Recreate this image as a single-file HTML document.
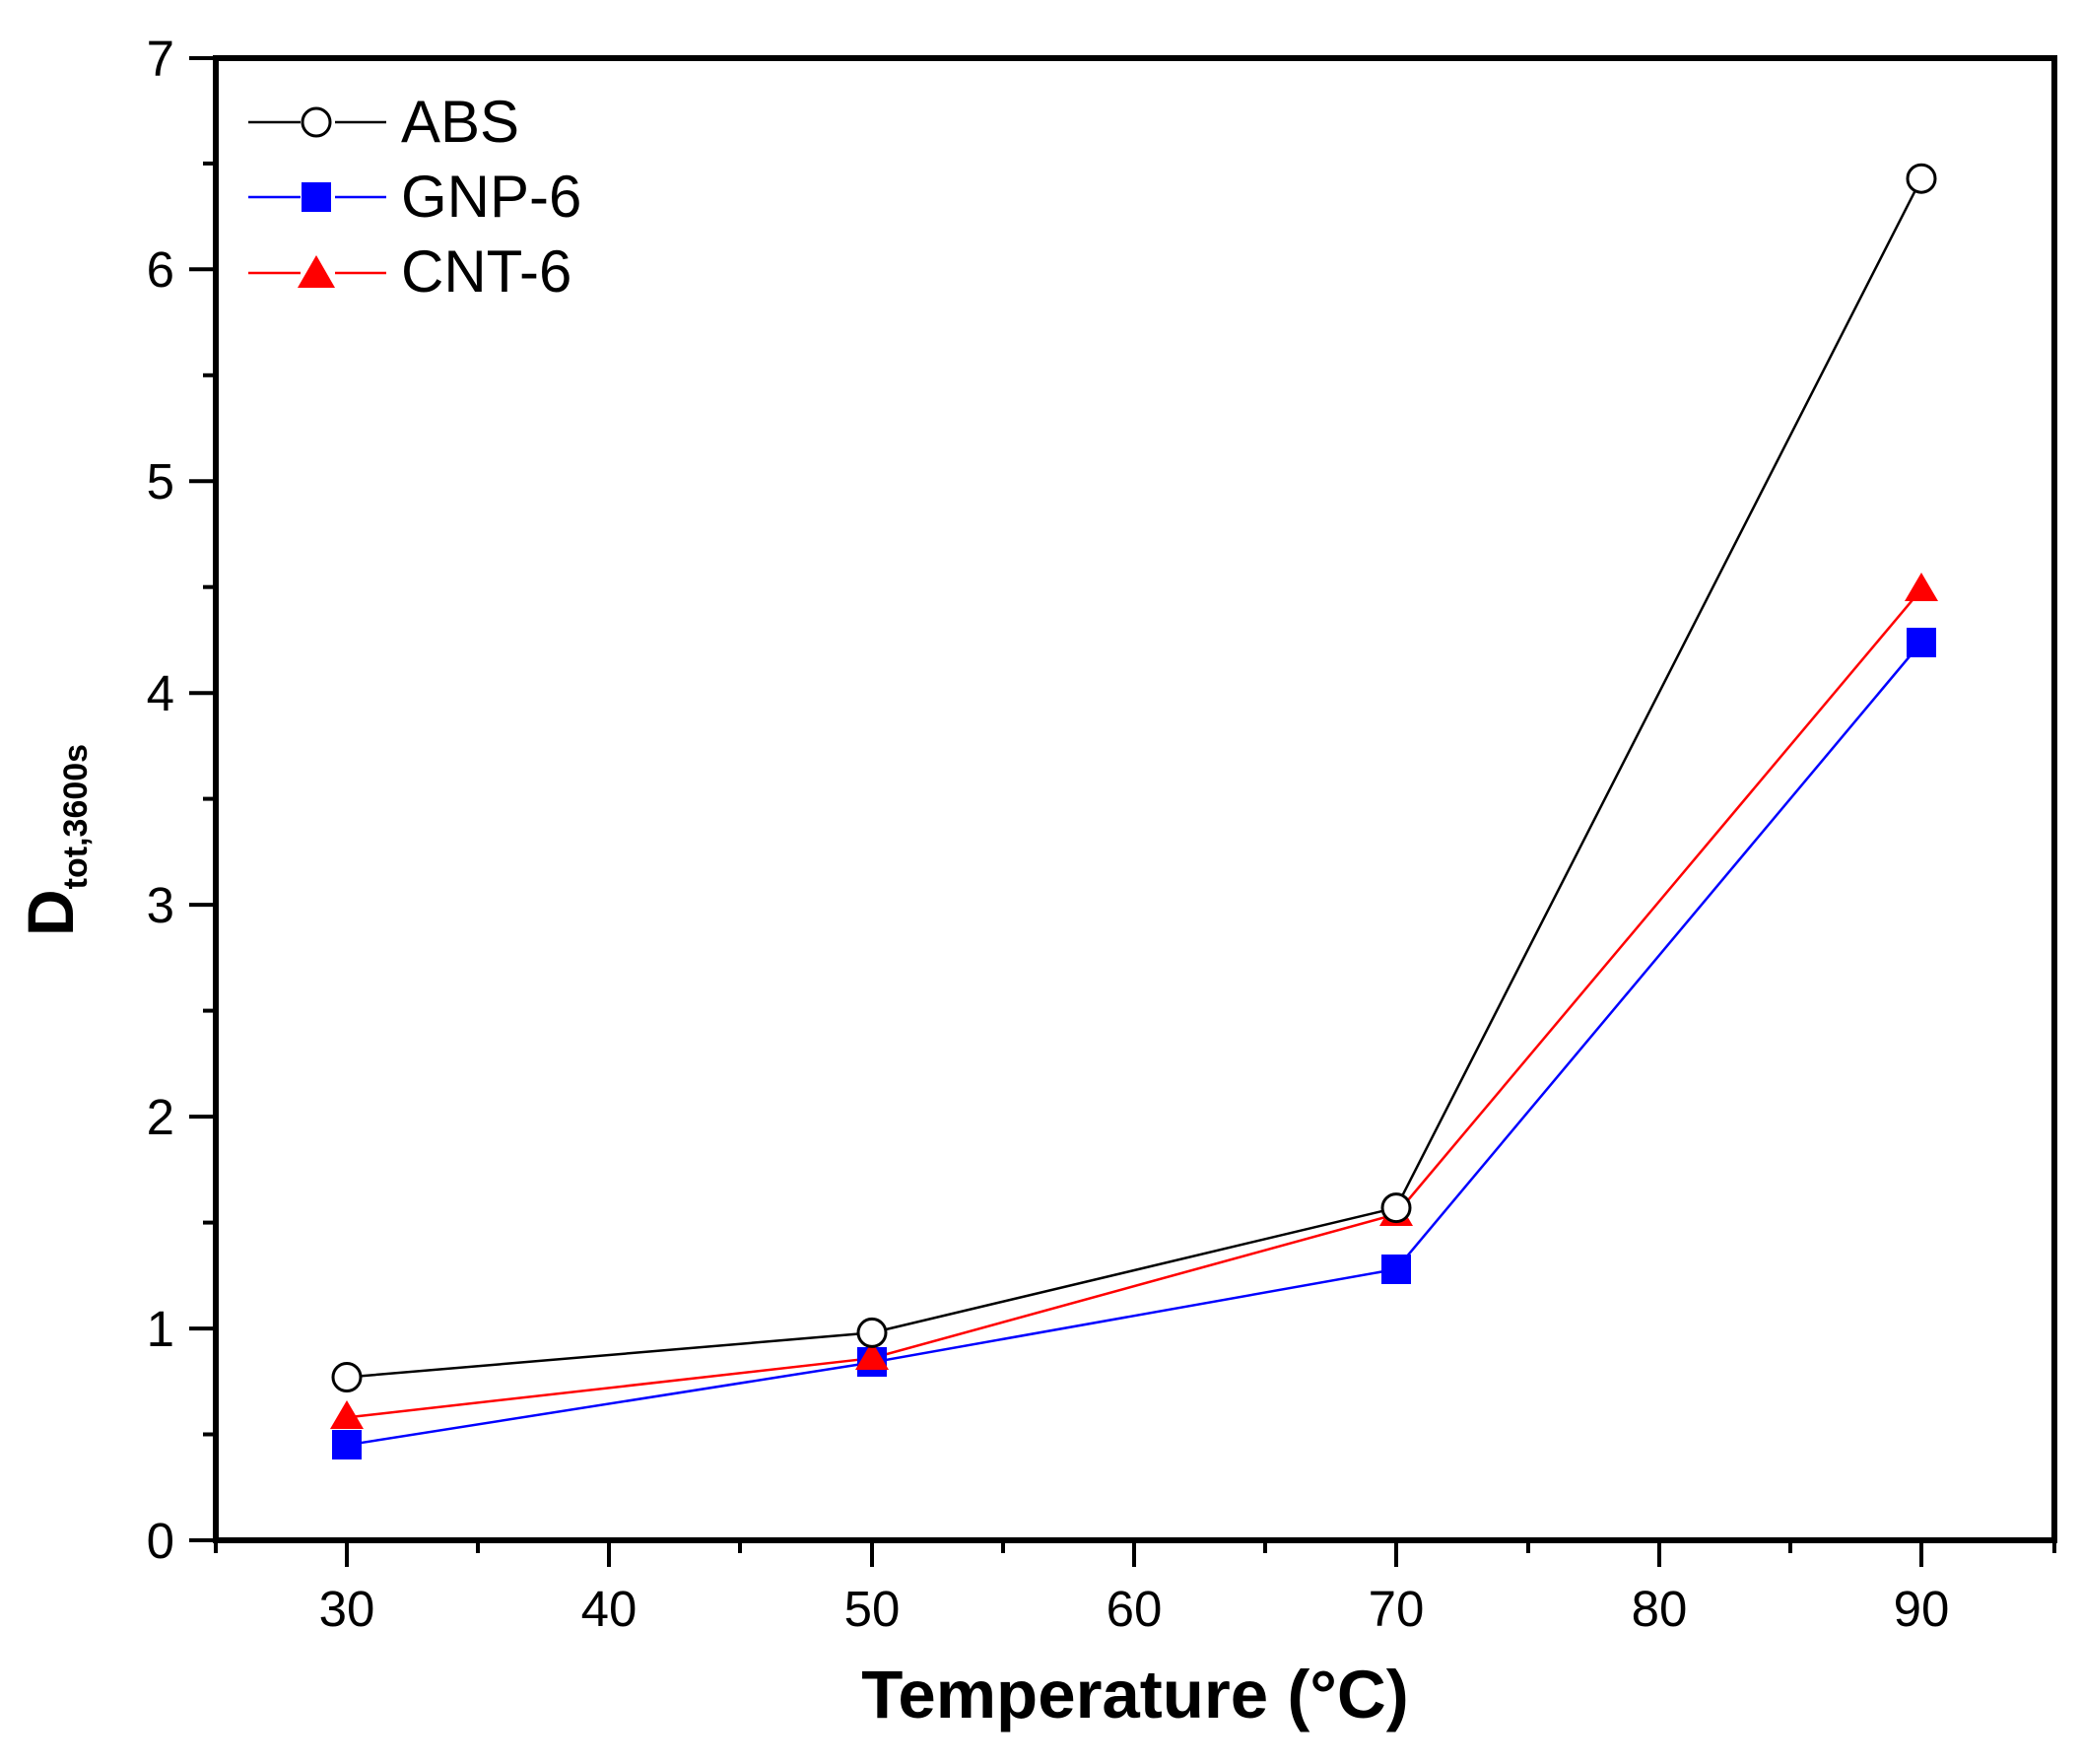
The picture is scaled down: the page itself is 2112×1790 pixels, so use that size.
<!DOCTYPE html>
<html><head><style>body{margin:0;background:#fff}</style></head><body>
<svg width="2112" height="1785" viewBox="0 0 2112 1785" xmlns="http://www.w3.org/2000/svg" font-family="Liberation Sans, Arial, sans-serif">
<rect width="2112" height="1785" fill="#fff"/>
<g stroke="#000" stroke-width="6" fill="none">
<rect x="219" y="59" width="1866" height="1504"/>
</g>
<g stroke="#000" stroke-width="4">
<line x1="192" y1="1563" x2="219" y2="1563"/><line x1="206" y1="1455.5" x2="219" y2="1455.5"/>
<line x1="192" y1="1348.1" x2="219" y2="1348.1"/><line x1="206" y1="1240.6" x2="219" y2="1240.6"/>
<line x1="192" y1="1133.1" x2="219" y2="1133.1"/><line x1="206" y1="1025.6" x2="219" y2="1025.6"/>
<line x1="192" y1="918.1" x2="219" y2="918.1"/><line x1="206" y1="810.6" x2="219" y2="810.6"/>
<line x1="192" y1="703.2" x2="219" y2="703.2"/><line x1="206" y1="595.7" x2="219" y2="595.7"/>
<line x1="192" y1="488.3" x2="219" y2="488.3"/><line x1="206" y1="380.8" x2="219" y2="380.8"/>
<line x1="192" y1="273.3" x2="219" y2="273.3"/><line x1="206" y1="165.9" x2="219" y2="165.9"/>
<line x1="192" y1="59" x2="219" y2="59"/>
<line x1="219" y1="1563" x2="219" y2="1576"/>
<line x1="352" y1="1563" x2="352" y2="1590"/><line x1="485" y1="1563" x2="485" y2="1576"/>
<line x1="618" y1="1563" x2="618" y2="1590"/><line x1="751" y1="1563" x2="751" y2="1576"/>
<line x1="885" y1="1563" x2="885" y2="1590"/><line x1="1018" y1="1563" x2="1018" y2="1576"/>
<line x1="1151" y1="1563" x2="1151" y2="1590"/><line x1="1284" y1="1563" x2="1284" y2="1576"/>
<line x1="1417" y1="1563" x2="1417" y2="1590"/><line x1="1551" y1="1563" x2="1551" y2="1576"/>
<line x1="1684" y1="1563" x2="1684" y2="1590"/><line x1="1817" y1="1563" x2="1817" y2="1576"/>
<line x1="1950" y1="1563" x2="1950" y2="1590"/><line x1="2085" y1="1563" x2="2085" y2="1576"/>
</g>
<g font-size="51" text-anchor="end">
<text x="177" y="1581">0</text><text x="177" y="1366">1</text><text x="177" y="1151">2</text>
<text x="177" y="936">3</text><text x="177" y="721">4</text><text x="177" y="506">5</text>
<text x="177" y="291">6</text><text x="177" y="77">7</text>
</g>
<g font-size="51" text-anchor="middle">
<text x="352" y="1650">30</text><text x="618" y="1650">40</text><text x="885" y="1650">50</text>
<text x="1151" y="1650">60</text><text x="1417" y="1650">70</text><text x="1684" y="1650">80</text><text x="1950" y="1650">90</text>
</g>
<text x="1152" y="1743" font-size="69" font-weight="bold" text-anchor="middle">Temperature (°C)</text>
<text transform="translate(74,950) rotate(-90)" font-size="66" font-weight="bold">D<tspan font-size="34" dy="14">tot,3600s</tspan></text>
<polyline points="352,1397.5 885,1352.4 1417,1225.6 1950,181.2" fill="none" stroke="#000" stroke-width="2.5"/>
<polyline points="352,1466.3 885,1382.5 1417,1287.9 1950,651.8" fill="none" stroke="#00f" stroke-width="2.5"/>
<polyline points="352,1438.4 885,1378.2 1417,1232.1 1950,598.1" fill="none" stroke="#f00" stroke-width="2.5"/>
<g fill="#00f">
<rect x="337" y="1451" width="30" height="30"/><rect x="870" y="1367" width="30" height="30"/>
<rect x="1402" y="1273" width="30" height="30"/><rect x="1935" y="637" width="30" height="30"/>
</g>
<g fill="#f00">
<polygon points="352,1421 369,1450 335,1450"/><polygon points="885,1361 902,1390 868,1390"/>
<polygon points="1417,1215 1434,1244 1400,1244"/><polygon points="1950,581 1967,610 1933,610"/>
</g>
<g fill="#fff" stroke="#000" stroke-width="3">
<circle cx="352" cy="1397.5" r="14"/><circle cx="885" cy="1352.4" r="14"/>
<circle cx="1417" cy="1225.6" r="14"/><circle cx="1950" cy="181.2" r="14"/>
</g>
<line x1="252" y1="124" x2="305" y2="124" stroke="#000" stroke-width="2.5"/><line x1="340" y1="124" x2="392" y2="124" stroke="#000" stroke-width="2.5"/>
<circle cx="321" cy="124" r="14" fill="#fff" stroke="#000" stroke-width="3"/>
<text x="407" y="144" font-size="60">ABS</text>
<line x1="252" y1="200" x2="305" y2="200" stroke="#00f" stroke-width="2.5"/><line x1="340" y1="200" x2="392" y2="200" stroke="#00f" stroke-width="2.5"/>
<rect x="306" y="185" width="30" height="30" fill="#00f"/>
<text x="407" y="220" font-size="60">GNP-6</text>
<line x1="252" y1="277" x2="305" y2="277" stroke="#f00" stroke-width="2.5"/><line x1="340" y1="277" x2="392" y2="277" stroke="#f00" stroke-width="2.5"/>
<polygon points="321,259 340,292 302,292" fill="#f00"/>
<text x="407" y="296" font-size="60">CNT-6</text>
</svg>
</body></html>
